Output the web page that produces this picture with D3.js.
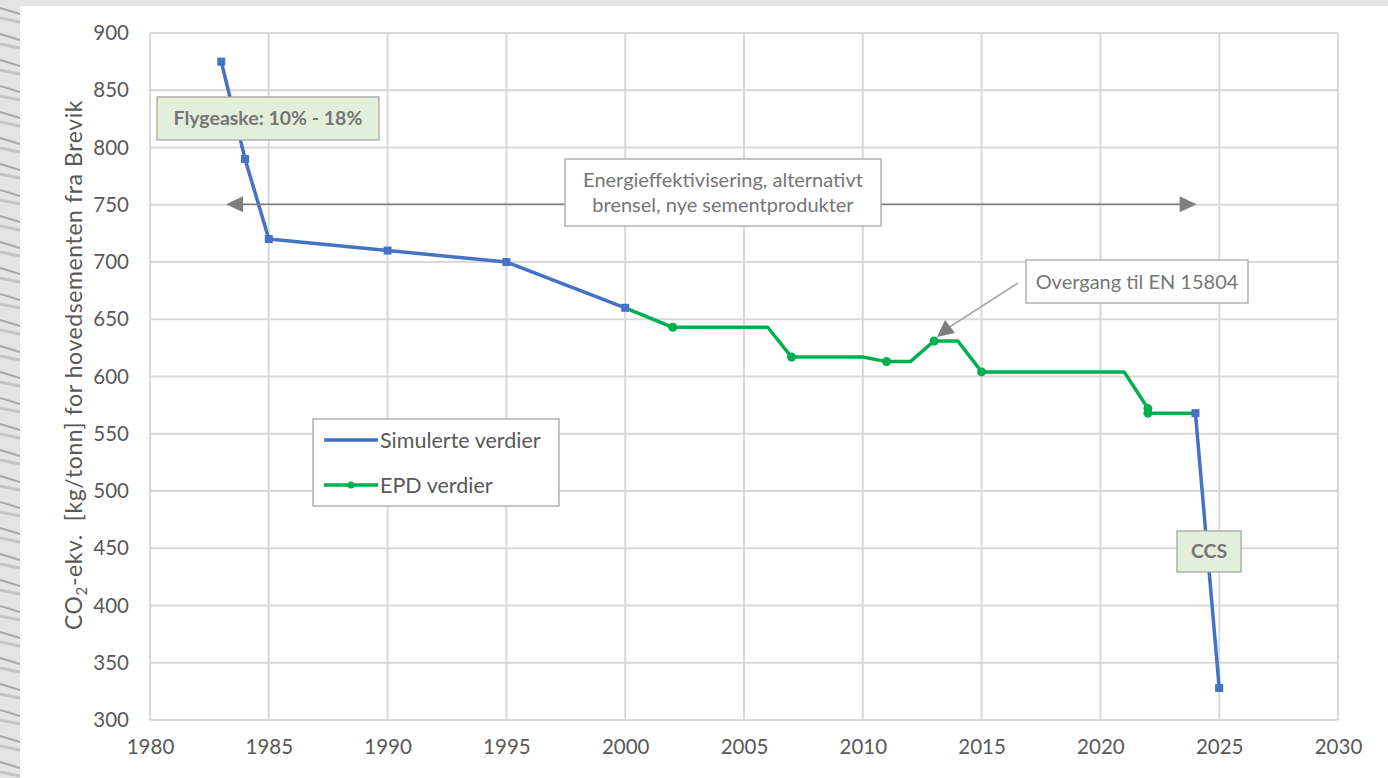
<!DOCTYPE html>
<html>
<head>
<meta charset="utf-8">
<script src="https://cdn.jsdelivr.net/npm/d3@7"></script>
<style>
  body { margin: 0; background: #fff; }
  svg { display: block; font-family: Lato, "Open Sans", sans-serif; }
</style>
</head>
<body>
<div id="output"></div>
<script>
// simulated values (two pieces, gap between 2000 and 2024)
var simYears1 = [1983, 1984, 1985, 1990, 1995, 2000];
var simValues1 = [875, 790, 720, 710, 700, 660];
var simYears2 = [2024, 2025];
var simValues2 = [568, 328];

// EPD line, with the flat holding segments
var epdYears = [2000, 2002, 2006, 2007, 2010, 2011, 2012, 2013, 2014, 2015, 2021, 2022, 2022, 2024];
var epdValues = [660, 643, 643, 617, 617, 613, 613, 631, 631, 604, 604, 572, 568, 568];
// which of the points above carry a marker
var epdMarked = [false, true, false, true, false, true, false, true, false, true, false, true, true, false];

var xTicks = [1980, 1985, 1990, 1995, 2000, 2005, 2010, 2015, 2020, 2025, 2030];
var yTicks = [300, 350, 400, 450, 500, 550, 600, 650, 700, 750, 800, 850, 900];

var legendLabels = ["Simulerte verdier", "EPD verdier"];

var w = 1388, h = 778;
var plot = {left: 150, right: 1338, top: 33, bottom: 720};

var blue = "#4472C4", green = "#00B050", grid = "#d9d9d9", txt = "#595959";

var svg = d3.select("#output").append("svg")
    .attr("width", w)
    .attr("height", h);

// striped frame on the left and top
var defs = svg.append("defs");
var pat = defs.append("pattern")
    .attr("id", "stripes")
    .attr("width", 20).attr("height", 26)
    .attr("patternUnits", "userSpaceOnUse");
pat.append("rect").attr("width", 20).attr("height", 26).attr("fill", "#e4e4e4");
pat.append("path").attr("d", "M0,8 L20,14").attr("stroke", "#a8a8a8").attr("stroke-width", 2);
pat.append("path").attr("d", "M0,18 L20,22").attr("stroke", "#c4c4c4").attr("stroke-width", 3);

svg.append("rect").attr("width", w).attr("height", h).attr("fill", "url(#stripes)");
svg.append("rect").attr("x", 20).attr("y", 6).attr("width", w - 20).attr("height", h - 6).attr("fill", "#fff");

var x = d3.scaleLinear()
    .domain([1980, 2030])
    .range([plot.left, plot.right]);

var y = d3.scaleLinear()
    .domain([300, 900])
    .range([plot.bottom, plot.top]);

// gridlines
svg.append("g")
    .selectAll("line")
    .data(yTicks)
    .enter()
    .append("line")
    .attr("x1", plot.left).attr("x2", plot.right)
    .attr("y1", function (d) { return y(d) })
    .attr("y2", function (d) { return y(d) })
    .attr("stroke", grid).attr("stroke-width", 2);

svg.append("g")
    .selectAll("line")
    .data(xTicks)
    .enter()
    .append("line")
    .attr("y1", plot.top).attr("y2", plot.bottom)
    .attr("x1", function (d) { return x(d) })
    .attr("x2", function (d) { return x(d) })
    .attr("stroke", grid).attr("stroke-width", 2);

// axes (labels only, lines come from the grid)
var xAxis = d3.axisBottom(x)
    .tickValues(xTicks)
    .tickFormat(d3.format("d"))
    .tickSize(0)
    .tickPadding(19);

var yAxis = d3.axisLeft(y)
    .tickValues(yTicks)
    .tickSize(0)
    .tickPadding(21);

var gx = svg.append("g")
    .attr("transform", "translate(0," + plot.bottom + ")")
    .call(xAxis);
var gy = svg.append("g")
    .attr("transform", "translate(" + plot.left + ",0)")
    .call(yAxis);
[gx, gy].forEach(function (g) {
    g.select(".domain").remove();
    g.selectAll("text").attr("font-size", 20.5).attr("fill", txt).attr("font-family", "Lato, sans-serif");
});

// y title
var yTitle = svg.append("text")
    .attr("transform", "translate(82,365) rotate(-90)")
    .attr("text-anchor", "middle")
    .attr("font-size", 23)
    .attr("letter-spacing", 0.6)
    .attr("fill", txt);
yTitle.append("tspan").text("CO");
yTitle.append("tspan").attr("font-size", 15).attr("dy", 5).text("2");
yTitle.append("tspan").attr("dy", -5).attr("xml:space", "preserve").text("-ekv.  [kg/tonn] for hovedsementen fra Brevik");

// lines
var line = d3.line()
    .x(function (d) { return x(d[0]) })
    .y(function (d) { return y(d[1]) });

var epd = d3.zip(epdYears, epdValues);
var sim1 = d3.zip(simYears1, simValues1);
var sim2 = d3.zip(simYears2, simValues2);

svg.append("path")
    .datum(epd)
    .attr("d", line)
    .attr("fill", "none")
    .attr("stroke", green)
    .attr("stroke-width", 3.5)
    .attr("stroke-linejoin", "round");

svg.selectAll(".epdDot")
    .data(epd.filter(function (d, i) { return epdMarked[i] }))
    .enter()
    .append("circle")
    .attr("class", "epdDot")
    .attr("r", 4.5)
    .attr("cx", function (d) { return x(d[0]) })
    .attr("cy", function (d) { return y(d[1]) })
    .attr("fill", green);

[sim1, sim2].forEach(function (s) {
    svg.append("path")
        .datum(s)
        .attr("d", line)
        .attr("fill", "none")
        .attr("stroke", blue)
        .attr("stroke-width", 3.5)
        .attr("stroke-linejoin", "round");
});

svg.selectAll(".simDot")
    .data(sim1.concat(sim2))
    .enter()
    .append("rect")
    .attr("class", "simDot")
    .attr("width", 8).attr("height", 8)
    .attr("x", function (d) { return x(d[0]) - 4 })
    .attr("y", function (d) { return y(d[1]) - 4 })
    .attr("fill", blue);

// double arrow across the period
var ay = y(750.5), ax0 = x(1983.2), ax1 = x(2024.05);
svg.append("line")
    .attr("x1", ax0 + 10).attr("x2", ax1 - 10)
    .attr("y1", ay).attr("y2", ay)
    .attr("stroke", "#7f7f7f").attr("stroke-width", 1.5);
svg.append("path")
    .attr("d", "M" + ax0 + "," + ay + " l17,-8 l0,16 Z")
    .attr("fill", "#7f7f7f");
svg.append("path")
    .attr("d", "M" + ax1 + "," + ay + " l-17,-8 l0,16 Z")
    .attr("fill", "#7f7f7f");

// arrow to the EN 15804 step
svg.append("line")
    .attr("x1", 1018).attr("y1", 283)
    .attr("x2", 948).attr("y2", 328)
    .attr("stroke", "#a6a6a6").attr("stroke-width", 1.5);
svg.append("path")
    .attr("d", "M937,337 L945,320 L955,333 Z")
    .attr("fill", "#7f7f7f");

function box(x0, y0, bw, bh, fill, lines, bold, size) {
    svg.append("rect")
        .attr("x", x0).attr("y", y0)
        .attr("width", bw).attr("height", bh)
        .attr("fill", fill)
        .attr("stroke", "#a6a6a6")
        .attr("stroke-width", 1.3);
    var lh = size * 1.25;
    lines.forEach(function (t, i) {
        svg.append("text")
            .attr("x", x0 + bw / 2)
            .attr("y", y0 + bh / 2 + (i - (lines.length - 1) / 2) * lh)
            .attr("dy", "0.35em")
            .attr("text-anchor", "middle")
            .attr("font-size", size)
            .attr("font-weight", bold ? "bold" : "normal")
            .attr("fill", "#767676")
            .text(t);
    });
}

box(157, 97, 222, 43, "#e2efda", ["Flygeaske: 10% - 18%"], true, 19.5);
box(565, 159, 316, 67, "#fff", ["Energieffektivisering, alternativt", "brensel, nye sementprodukter"], false, 20);
box(1026, 260, 222, 43, "#fff", ["Overgang til EN 15804"], false, 20);
box(1177, 531, 64, 41, "#e2efda", ["CCS"], true, 19.5);

// legend
var lg = svg.append("g").attr("transform", "translate(313,419)");
lg.append("rect")
    .attr("width", 246).attr("height", 87)
    .attr("fill", "#fff")
    .attr("stroke", "#a6a6a6").attr("stroke-width", 1.3);
var legendColors = [blue, green];
legendLabels.forEach(function (l, i) {
    var ly = 21 + i * 45;
    lg.append("line")
        .attr("x1", 11).attr("x2", 65)
        .attr("y1", ly).attr("y2", ly)
        .attr("stroke", legendColors[i]).attr("stroke-width", 3.5);
    if (i == 1) {
        lg.append("circle").attr("cx", 38).attr("cy", ly).attr("r", 3.5).attr("fill", green);
    }
    lg.append("text")
        .attr("x", 67).attr("y", ly)
        .attr("dy", "0.35em")
        .attr("font-size", 21.5)
        .attr("fill", txt)
        .text(l);
});
</script>
</body>
</html>
